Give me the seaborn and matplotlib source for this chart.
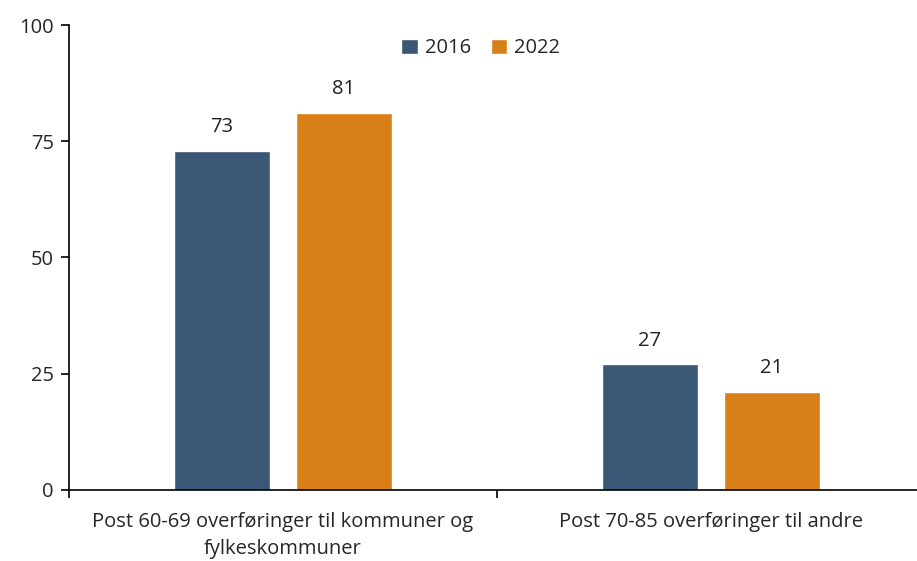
import matplotlib
matplotlib.use("Agg")
import matplotlib.pyplot as plt
import pandas as pd
import seaborn as sns

categories = ["Post 60-69 overføringer til kommuner og\nfylkeskommuner",
              "Post 70-85 overføringer til andre"]
years = ["2016", "2022"]
values_2016 = [73, 27]
values_2022 = [81, 21]
colors = ["#3A5775", "#D97F17"]

df = pd.DataFrame({
    "category": categories * 2,
    "year": [years[0]] * 2 + [years[1]] * 2,
    "value": values_2016 + values_2022,
})

sns.set_style("white")
plt.rcParams["font.family"] = ["Open Sans", "DejaVu Sans"]

fig = plt.figure(figsize=(9.17, 5.61), dpi=100)
# axes runs slightly past the right edge, like the reference
ax = fig.add_axes([0.0752, 0.1266, 0.9335, 0.8288])

sns.barplot(data=df, x="category", y="value", hue="year", palette=colors,
            width=0.57, gap=0.22, saturation=1, ax=ax, legend=True)

for cont in ax.containers:
    ax.bar_label(cont, fmt="%.0f", padding=10, fontsize=14.5, color="#222222")

ax.set_ylim(0, 100)
ax.set_xlim(-0.5, 1.5)
ax.set_yticks([0, 25, 50, 75, 100])
ax.set_xticks([-0.5, 0.5, 1.5])
ax.set_xticklabels([])
ax.set_xticks([0, 1], minor=True)
ax.set_xticklabels(categories, minor=True, fontsize=14.5, linespacing=1.45)
ax.tick_params(axis="x", which="minor", bottom=False, length=0, pad=16)
ax.tick_params(axis="x", which="major", bottom=True, direction="out", length=6,
               width=1.2, color="black")
ax.tick_params(axis="y", left=True, direction="out", length=6, width=1.2,
               color="black", labelsize=14.5, pad=5)
ax.set_xlabel("")
ax.set_ylabel("")

sns.despine(ax=ax)
for s in ["left", "bottom"]:
    ax.spines[s].set_color("black")
    ax.spines[s].set_linewidth(1.2)

ax.legend(loc="upper center", bbox_to_anchor=(0.481, 1.01), ncol=2, frameon=False,
          fontsize=14.5, handlelength=0.8, handleheight=0.8, handletextpad=0.35,
          columnspacing=1.0)

fig.savefig("out.png", dpi=100)
